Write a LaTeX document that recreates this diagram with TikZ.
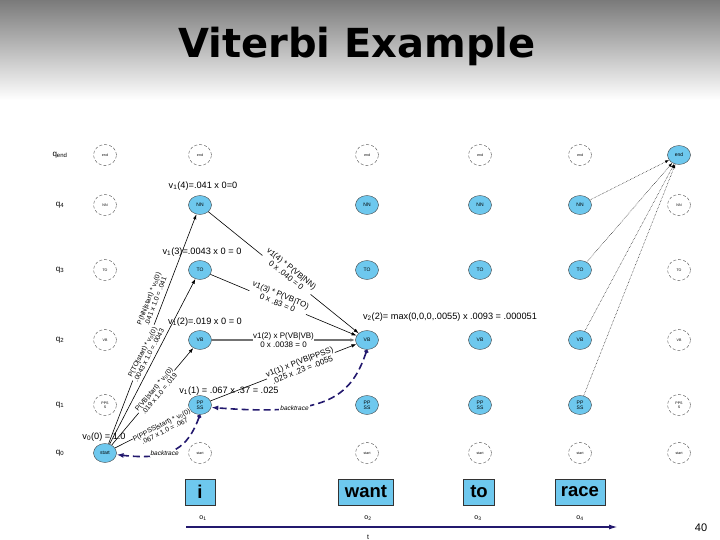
\documentclass[tikz,border=0pt]{standalone}
\usepackage{fontspec}
\setmainfont{Liberation Sans}
\newfontfamily\titlefont{DejaVu Sans}
\usetikzlibrary{shapes.geometric,arrows.meta}
\definecolor{nodeblue}{RGB}{110,200,238}
\definecolor{navyc}{RGB}{35,25,110}
\tikzset{
  act/.style={ellipse, draw=black!75, fill=nodeblue, minimum width=23pt, minimum height=19pt, inner sep=0pt, font=\fontsize{5}{5.2}\selectfont, align=center},
  ina/.style={ellipse, draw=black!70, densely dashed, minimum width=23pt, minimum height=21pt, inner sep=0pt, font=\fontsize{3.6}{3.8}\selectfont, align=center},
  rowlab/.style={font=\fontsize{8}{9}\selectfont},
  vlab/.style={font=\fontsize{9.2}{10}\selectfont, inner sep=0pt},
  elab/.style={sloped, fill=white, inner sep=0.5pt, font=\fontsize{8}{8.6}\selectfont, align=center},
  slab/.style={sloped, fill=white, inner sep=0.4pt, font=\fontsize{6.8}{7.2}\selectfont, align=center},
  arr/.style={-{Latex[length=5pt,width=3.5pt]}, line width=0.6pt},
  back/.style={navyc, line width=1.6pt, dash pattern=on 7pt off 4pt, {Circle[open,length=4pt,width=4pt,fill=white]}-{Latex[length=7pt,width=5pt]}},
  blab/.style={fill=white, inner sep=1pt, text=black, font=\fontsize{6.5}{7}\selectfont\itshape},
  endarr/.style={densely dotted, line width=0.5pt, -{Latex[length=4pt,width=3pt]}},
  wbox/.style={rectangle, draw=black!80, line width=0.5pt, fill=nodeblue, minimum height=26pt, inner sep=0pt, font=\fontsize{18.5}{20}\selectfont\bfseries},
  olab/.style={font=\fontsize{7}{8}\selectfont}
}
\begin{document}
\begin{tikzpicture}[x=1pt,y=-1pt]
\useasboundingbox (0,0) rectangle (720,540);
\shade[top color=black!52, bottom color=white] (0,0) rectangle (720,100);
\node[font=\titlefont\bfseries\fontsize{40}{42}\selectfont] (title) at (357,46) {Viterbi Example};

% row labels
\node[rowlab] (qe) at (60,155) {q\textsubscript{end}};
\node[rowlab] (q4) at (60,205) {q\textsubscript{4}};
\node[rowlab] (q3) at (60,270) {q\textsubscript{3}};
\node[rowlab] (q2) at (60,340) {q\textsubscript{2}};
\node[rowlab] (q1) at (60,405) {q\textsubscript{1}};
\node[rowlab] (q0) at (60,453) {q\textsubscript{0}};

% column 0
\node[ina] (e0) at (105,155) {end};
\node[ina] (n0) at (105,205) {NN};
\node[ina] (t0) at (105,270) {TO};
\node[ina] (v0) at (105,340) {VB};
\node[ina] (p0) at (105,405) {PPS\\S};
\node[act] (s0) at (105,453) {start};
% column 1
\node[ina] (e1) at (200,155) {end};
\node[act] (n1) at (200,205) {NN};
\node[act] (t1) at (200,270) {TO};
\node[act] (v1) at (200,340) {VB};
\node[act] (p1) at (200,405) {PP\\SS};
\node[ina] (s1) at (200,453) {start};
% column 2
\node[ina] (e2) at (367,155) {end};
\node[act] (n2) at (367,205) {NN};
\node[act] (t2) at (367,270) {TO};
\node[act] (v2) at (367,340) {VB};
\node[act] (p2) at (367,405) {PP\\SS};
\node[ina] (s2) at (367,453) {start};
% column 3
\node[ina] (e3) at (480,155) {end};
\node[act] (n3) at (480,205) {NN};
\node[act] (t3) at (480,270) {TO};
\node[act] (v3) at (480,340) {VB};
\node[act] (p3) at (480,405) {PP\\SS};
\node[ina] (s3) at (480,453) {start};
% column 4
\node[ina] (e4) at (580,155) {end};
\node[act] (n4) at (580,205) {NN};
\node[act] (t4) at (580,270) {TO};
\node[act] (v4) at (580,340) {VB};
\node[act] (p4) at (580,405) {PP\\SS};
\node[ina] (s4) at (580,453) {start};
% column 5
\node[act] (e5) at (679,155) {end};
\node[ina] (n5) at (679,205) {NN};
\node[ina] (t5) at (679,270) {TO};
\node[ina] (v5) at (679,340) {VB};
\node[ina] (p5) at (679,405) {PPS\\S};
\node[ina] (s5) at (679,453) {start};

% start edges
\draw[arr] (s0) -- (n1) node[slab,pos=0.61,above=4pt] {P(NN|start) * v\textsubscript{0}(0)\\.041 x 1.0 = .041};
\draw[arr] (s0) -- (t1) node[slab,pos=0.52,above=3pt] {P(TO|start) * v\textsubscript{0}(0)\\.0043 x 1.0 = .0043};
\draw[arr] (s0) -- (v1) node[slab,pos=0.55] {P(VB|start) * v\textsubscript{0}(0)\\.019 x 1.0 = .019};
\draw[arr] (s0) -- (p1) node[slab,pos=0.62,below=-3pt] {P(PPSS|start) * v\textsubscript{0}(0)\\.067 x 1.0 = .067};

% column 1 -> VB column 2
\draw[arr] (n1) -- (v2) node[elab,pos=0.52,above=-4pt] {v1(4) * P(VB|NN)\\0 x .040 = 0};
\draw[arr] (t1) -- (v2) node[elab,pos=0.46,above=-4pt] {v1(3) * P(VB|TO)\\0 x .83 = 0};
\draw[arr, draw=black!55, line width=1.5pt] (v1) -- (v2) node[elab,pos=0.5,text=black] {v1(2) x P(VB|VB)\\0 x .0038 = 0};
\draw[arr] (p1) -- (v2) node[elab,pos=0.62] {v1(1) x P(VB|PPSS)\\.025 x .23 = .0055};

% to end
\draw[endarr] (n4) -- (e5);
\draw[endarr] (t4) -- (e5);
\draw[endarr] (v4) -- (e5);
\draw[endarr] (p4) -- (e5);

% viterbi values
\node[vlab] (lv14) at (203,186) {v\textsubscript{1}(4)=.041 x 0=0};
\node[vlab] (lv13) at (202,252) {v\textsubscript{1}(3)=.0043 x 0 = 0};
\node[vlab] (lv12) at (205,322) {v\textsubscript{1}(2)=.019 x 0 = 0};
\node[vlab] (lv11) at (229,391) {v\textsubscript{1}(1) = .067 x .37 = .025};
\node[vlab] (lv00) at (104,437) {v\textsubscript{0}(0) = 1.0};
\node[vlab] (lv22) at (450,317) {v\textsubscript{2}(2)= max(0,0,0,.0055) x .0093 = .000051};

% backtrace
\draw[back] (v2.south) .. controls (350,400) and (322,416) .. node[pos=0.68, blab] {backtrace} (p1.-12);
\draw[back] (p1.south) .. controls (188,447) and (172,461) .. node[pos=0.62, blab] {backtrace} (s0.-8);

% words
\node[wbox, minimum width=30pt] (wi) at (200,492) {i};
\node[wbox, minimum width=55pt] (ww) at (366,492) {want};
\node[wbox, minimum width=31pt] (wt) at (479,492) {to};
\node[wbox, minimum width=50pt] (wr) at (580,492) {race};
\node[olab] (o1) at (203,518) {o\textsubscript{1}};
\node[olab] (o2) at (368,518) {o\textsubscript{2}};
\node[olab] (o3) at (478,518) {o\textsubscript{3}};
\node[olab] (o4) at (580,518) {o\textsubscript{4}};
\coordinate (ax1) at (186,527);
\coordinate (ax2) at (618,527);
\draw[navyc, line width=1.6pt, -{Latex[length=9pt,width=5pt]}] (ax1) -- (ax2);
\node[olab] (tl) at (368,537) {t};
\node[font=\fontsize{11}{12}\selectfont] (pg) at (701,528) {40};
\end{tikzpicture}
\end{document}
